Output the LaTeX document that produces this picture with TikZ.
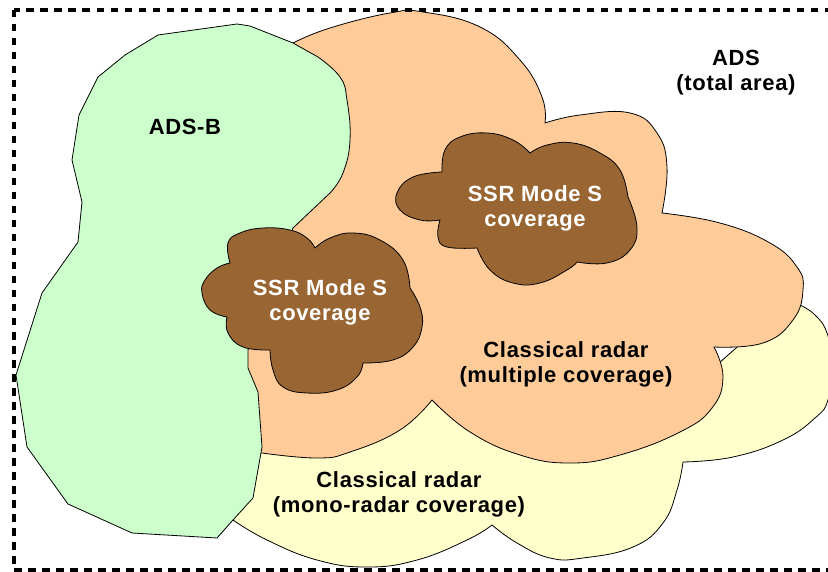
\documentclass[tikz,border=0pt]{standalone}
\usepackage{fontspec}
\setmainfont{Liberation Sans}[LetterSpace=3]
\definecolor{adsbgreen}{HTML}{CCFFCC}
\definecolor{multiorange}{HTML}{FFCC99}
\definecolor{monoyellow}{HTML}{FFFFCC}
\definecolor{ssrbrown}{HTML}{996633}
\tikzset{
  area/.style={draw=black, line width=0.8pt, line join=round},
  lbl/.style={font=\fontsize{22}{25}\selectfont\bfseries, align=center, inner sep=0pt},
  frame/.style={draw=black, line width=3.2pt, dash pattern=on 7.5pt off 6.5pt},
  lobe/.style={smooth, tension=0.75}
}
\begin{document}
\begin{tikzpicture}[x=1pt, y=-1pt]
\useasboundingbox (0,0) rectangle (828,572);
\fill[white] (0,0) rectangle (828,572);

% yellow: classical radar mono coverage
\path[area, fill=monoyellow]
  plot[lobe] coordinates {(800,305) (815,315) (827,333) (833,365) (828,400) (815,418) (783,440) (733,457) (683,462)}
  -- plot[lobe] coordinates {(683,462) (677,490) (663,523) (633,547) (583,558) (550,558) (517,543) (492,525)}
  -- plot[lobe] coordinates {(492,525) (467,540) (417,560) (367,567) (317,560) (267,540) (233,520)}
  -- (220,500) -- (230,380) -- (700,380) -- (790,300) -- cycle;

% orange: classical radar multiple coverage
\path[area, fill=multiorange]
  plot[lobe] coordinates {(293,43) (330,28) (390,13) (423,12) (480,27) (520,60) (542,97) (545,123)}
  -- plot[lobe] coordinates {(545,123) (580,115) (630,113) (657,133) (667,167) (662,213)}
  -- plot[lobe] coordinates {(662,213) (720,223) (770,243) (797,267) (803,290) (793,320) (763,343) (714,347)}
  -- plot[lobe] coordinates {(714,347) (723,377) (712,408) (680,432) (620,455) (570,463) (520,455) (470,432) (432,400)}
  -- plot[lobe] coordinates {(432,400) (400,430) (350,452) (317,458) (262,453)}
  -- (230,450) -- (230,150) -- cycle;

% green: ADS-B
\path[area, fill=adsbgreen]
  (158,35) -- (237,24) -- (250,26) -- (293,43) -- (318,57)
  -- plot[lobe] coordinates {(318,57) (340,77) (347,100) (350,140) (343,173) (330,193)}
  -- (293,228) -- (248,350) -- (248,368) -- (258,392) -- (262,447) -- (253,498)
  -- (233,520) -- (217,538) -- (132,533) -- (68,504) -- (27,447) -- (16,375)
  -- (42,293) -- (78,242) -- (82,202) -- (72,160) -- (79,115) -- (98,77)
  -- (125,55) -- cycle;

% brown cloud 1
\path[area, fill=ssrbrown]
  plot[lobe] coordinates {(230,263) (228,243) (240,233) (263,228) (290,230) (307,238) (315,248)}
  -- plot[lobe] coordinates {(315,248) (330,238) (353,233) (380,240) (403,260) (410,288)}
  -- plot[lobe] coordinates {(410,288) (420,307) (422,327) (413,347) (393,360) (363,363)}
  -- plot[lobe] coordinates {(363,363) (357,377) (337,390) (307,393) (283,387) (273,370) (270,350)}
  -- plot[lobe] coordinates {(270,350) (243,347) (228,333) (227,317)}
  -- plot[lobe] coordinates {(227,317) (210,310) (202,293) (205,280) (217,268) (230,263)}
  -- cycle;

% brown cloud 2
\path[area, fill=ssrbrown]
  plot[lobe] coordinates {(442,172) (413,177) (397,193) (400,210) (420,220) (440,220)}
  -- plot[lobe] coordinates {(440,220) (438,237) (447,247) (477,248)}
  -- plot[lobe] coordinates {(477,248) (490,270) (513,283) (540,283) (567,270) (577,262)}
  -- plot[lobe] coordinates {(577,262) (607,263) (630,250) (637,227) (628,197)}
  -- plot[lobe] coordinates {(628,197) (620,170) (600,153) (573,143) (547,145) (530,153)}
  -- plot[lobe] coordinates {(530,153) (513,140) (487,133) (460,137) (445,150) (442,172)}
  -- cycle;

% dashed frame
\draw[frame] (14,10) rectangle (850,570);

% labels
\node[lbl] (adsb) at (185,127) {ADS-B};
\node[lbl] (ads) at (736,73) {ADS\\(total area)};
\node[lbl, text=white] (ssr1) at (320,302) {SSR Mode S\\coverage};
\node[lbl, text=white] (ssr2) at (535,208) {SSR Mode S\\coverage};
\node[lbl] (multi) at (566,364) {Classical radar\\(multiple coverage)};
\node[lbl] (mono) at (399,494) {Classical radar\\(mono-radar coverage)};
\end{tikzpicture}
\end{document}
